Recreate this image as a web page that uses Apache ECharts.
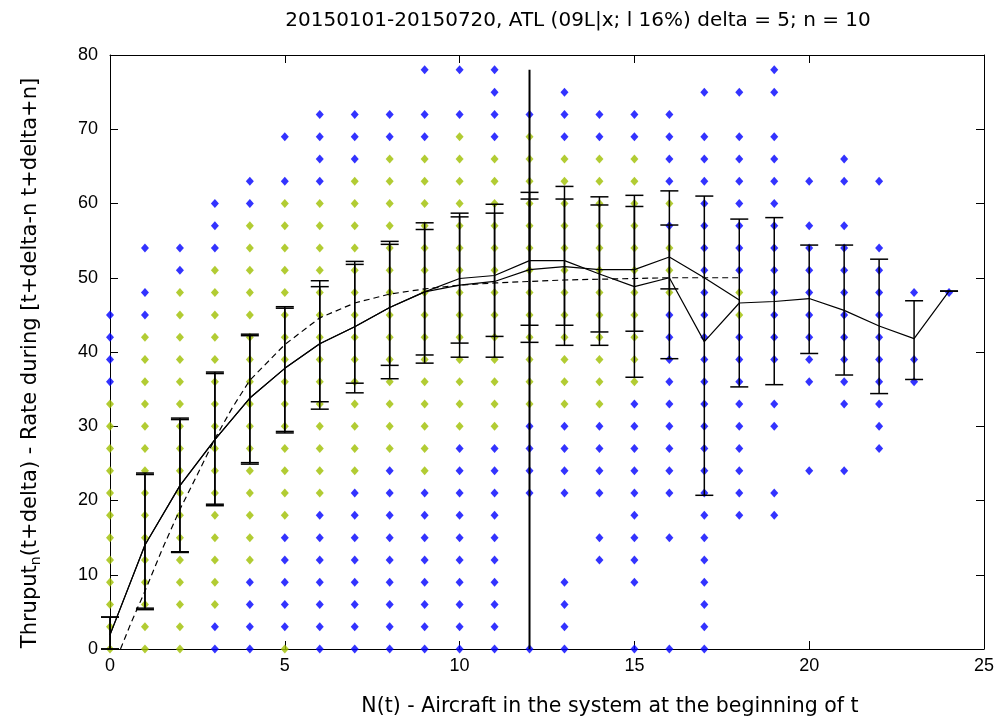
<!DOCTYPE html>
<html><head><meta charset="utf-8">
<script src="https://cdn.jsdelivr.net/npm/echarts@6/dist/echarts.min.js"></script>
<style>html,body{margin:0;padding:0;background:#fff}#c{width:1005px;height:720px}</style>
</head><body><div id="c"></div>
<script>
const titleText = '20150101-20150720, ATL (09L|x; l 16%) delta = 5; n = 10';
const xAxisName = 'N(t) - Aircraft in the system at the beginning of t';
const yAxisName = '{a|Thruput}{s|n}{a|(t+delta) - Rate during [t+delta-n t+delta+n]}';
const xTicks = [0, 5, 10, 15, 20, 25];
const yTicks = [0, 10, 20, 30, 40, 50, 60, 70, 80];
const nValues = [0,1,2,3,4,5,6,7,8,9,10,11,12,13,14,15,16,17,18,19,20,21,22,23,24];

// observed throughputs per N(t), green (core) and blue (outer)
const greenY = [
  [0,3,6,9,12,15,18,21,24,27,30,33],
  [0,3,6,9,12,15,18,21,24,27,30,33,36,39,42],
  [0,3,6,9,12,15,18,21,24,27,30,33,36,39,42,45,48],
  [6,9,12,15,18,21,24,27,30,33,36,39,42,45,48,51],
  [12,15,18,21,24,27,30,33,36,39,42,45,48,51,54,57],
  [0,18,21,24,27,30,33,36,39,42,45,48,51,54,57,60],
  [21,24,27,30,33,36,39,42,45,48,51,54,57,60],
  [24,27,30,33,36,39,42,45,48,51,54,57,60,63],
  [27,30,33,36,39,42,45,48,51,54,57,60,63,66],
  [24,27,30,33,36,39,42,45,48,51,54,57,60,63,66],
  [30,33,36,39,42,45,48,51,54,57,60,63,66,69],
  [30,33,36,39,42,45,48,51,54,57,60,63,66],
  [33,36,39,42,45,48,51,54,57,60,63,66,69],
  [33,36,39,42,45,48,51,54,57,60,63,66],
  [33,36,39,42,45,48,51,54,57,60,63,66],
  [36,39,42,45,48,51,54,57,60,63,66],
  [48,51,54,60],
  [],
  [45,48],
  [], [], [], [], [], []
];
const blueY = [
  [36,39,42,45],
  [45,48,54],
  [51,54],
  [0,3,54,57,60],
  [0,3,6,9,60,63],
  [3,6,9,12,15,63,69],
  [0,3,6,9,12,15,18,63,66,69,72],
  [0,3,6,9,12,15,18,21,66,69,72],
  [0,3,6,9,12,15,18,21,24,69,72],
  [0,3,6,9,12,15,18,21,69,72,78],
  [0,3,6,9,12,15,18,21,24,27,72,78],
  [0,3,6,9,12,15,18,21,24,27,69,72,75,78],
  [0,21,24,27,30,72],
  [0,3,6,9,21,24,27,30,69,72,75],
  [12,15,21,24,27,30,69,72],
  [0,9,12,15,18,21,24,27,30,33,69,72],
  [0,15,21,24,27,30,33,36,39,42,45,57,63,66,69,72],
  [0,3,6,9,12,15,18,21,24,27,30,33,36,39,42,45,48,51,54,57,60,63,66,69,75],
  [18,21,24,27,30,33,36,39,42,51,54,57,60,63,66,69,75],
  [18,21,30,33,39,42,45,48,51,54,57,60,63,66,69,75,78],
  [24,36,39,42,45,48,51,54,57,63],
  [24,33,36,39,42,45,48,51,54,57,63,66],
  [27,30,33,36,39,42,45,48,51,54,63],
  [36,39,48],
  [48]
];

// dashed fitted curve
const fitX = [0.3, 0.6, 1, 1.5, 2, 2.5, 3, 3.5, 4, 5, 6, 7, 8, 9, 10, 11, 12, 13, 14, 15, 16, 17, 18];
const fitY = [0, 3.5, 7.8, 13.5, 18.8, 23.5, 28.3, 32.5, 36.2, 41, 44.6, 46.6, 47.8, 48.5, 49, 49.3, 49.5, 49.7, 49.8, 49.9, 50, 50, 50];

// mean curve A (runs to N = 24) with its error bars
const meanAX  = [0, 1, 2, 3, 4, 5, 6, 7, 8, 9, 10, 11, 12, 13, 14, 15, 16, 17, 18, 19, 20, 21, 22, 23, 24];
const meanAY  = [1.9, 14.0, 22.0, 28.2, 33.8, 37.8, 41.1, 43.4, 46.0, 48.1, 49.9, 50.3, 52.3, 52.3, 50.5, 48.8, 50.0, 41.4, 46.6, 46.8, 47.2, 45.6, 43.5, 41.8, 48.2];
const meanALo = [0, 5.5, 13.1, 19.5, 25.1, 29.3, 32.3, 34.5, 36.4, 38.5, 41.2, 42.1, 43.6, 43.6, 40.9, 36.6, 39.1, 20.7, 35.3, 35.6, 39.8, 36.9, 34.4, 36.3, 48.2];
const meanAHi = [4.3, 23.7, 31.1, 37.3, 42.4, 46.1, 49.6, 52.2, 54.9, 57.4, 58.7, 58.7, 61.5, 60.6, 60.9, 61.1, 61.7, 61.0, 57.9, 58.1, 54.4, 54.4, 52.5, 46.9, 48.2];

// mean curve B (runs to N = 18) with its error bars (to N = 16)
const meanBX  = [0, 1, 2, 3, 4, 5, 6, 7, 8, 9, 10, 11, 12, 13, 14, 15, 16, 17, 18];
const meanBY  = [1.9, 14.0, 22.0, 28.2, 33.8, 37.8, 41.1, 43.4, 46.0, 48.1, 49.0, 49.5, 51.1, 51.5, 51.1, 51.1, 52.8, 50.0, 47.0];
const errBX   = [0, 1, 2, 3, 4, 5, 6, 7, 8, 9, 10, 11, 12, 13, 14, 15, 16];
const meanBLo = [0, 5.3, 13.0, 19.3, 24.9, 29.1, 33.3, 35.8, 38.2, 39.6, 39.3, 39.3, 41.3, 40.9, 42.7, 42.8, 48.5];
const meanBHi = [4.3, 23.5, 30.9, 37.1, 42.2, 45.9, 48.8, 51.8, 54.5, 56.5, 58.2, 59.9, 60.6, 62.3, 59.8, 59.6, 57.1];

// vertical reference line
const refX = [12, 12];
const refY = [0, 78];

const GREEN = '#9fbf00', BLUE = '#0000ff';
const FONT = '"DejaVu Sans", Verdana, sans-serif';
const TICKFONT = '"Liberation Sans", Arial, sans-serif';

function pts(cols) {
  const out = [];
  cols.forEach((ys, i) => ys.forEach(y => out.push([nValues[i], y])));
  return out;
}
function zip(a, b) { return a.map((v, i) => [v, b[i]]); }
function zip3(a, b, c) { return a.map((v, i) => [v, b[i], c[i]]); }

function errRender(params, api) {
  const x = api.value(0), lo = api.value(1), hi = api.value(2);
  const pLo = api.coord([x, lo]), pHi = api.coord([x, hi]);
  const w = 9;
  const st = { stroke: '#000', lineWidth: 1.5 };
  return { type: 'group', children: [
    { type: 'line', shape: { x1: pLo[0], y1: pLo[1], x2: pHi[0], y2: pHi[1] }, style: st },
    { type: 'line', shape: { x1: pLo[0] - w, y1: pLo[1], x2: pLo[0] + w, y2: pLo[1] }, style: st },
    { type: 'line', shape: { x1: pHi[0] - w, y1: pHi[1], x2: pHi[0] + w, y2: pHi[1] }, style: st }
  ]};
}

const chart = echarts.init(document.getElementById('c'), null, { renderer: 'canvas' });
const axisCommon = {
  axisLine: { show: true, onZero: false, lineStyle: { color: '#000', width: 1 } },
  axisTick: { show: true, inside: true, length: 8, lineStyle: { color: '#000' } },
  splitLine: { show: false }
};
chart.setOption({
  animation: false,
  backgroundColor: '#fff',
  graphic: [
    { type: 'text', x: 578, y: 21, style: { text: titleText, fill: '#000', font: '20px ' + FONT,
        align: 'center', verticalAlign: 'middle' } },
    { type: 'text', x: 610, y: 707, style: { text: xAxisName, fill: '#000', font: '20.5px ' + FONT,
        align: 'center', verticalAlign: 'middle' } },
    { type: 'text', x: 31, y: 363, rotation: Math.PI / 2, style: { text: yAxisName, fill: '#000',
        font: '21px ' + FONT, align: 'center', verticalAlign: 'middle',
        rich: { a: { fontFamily: FONT, fontSize: 21, fill: '#000', lineHeight: 25 },
                s: { fontFamily: FONT, fontSize: 14, fill: '#000', verticalAlign: 'bottom', lineHeight: 12 } } } }
  ],
  grid: { left: 110, right: 21, top: 55, bottom: 71 },
  xAxis: [
    Object.assign({ type: 'value', min: xTicks[0], max: xTicks[xTicks.length - 1], interval: 5, position: 'bottom',
      axisLabel: { fontFamily: TICKFONT, fontSize: 18, color: '#000', margin: 8 } }, axisCommon),
    Object.assign({ type: 'value', min: xTicks[0], max: xTicks[xTicks.length - 1], interval: 5, position: 'top',
      axisLabel: { show: false } }, axisCommon)
  ],
  yAxis: [
    Object.assign({ type: 'value', min: yTicks[0], max: yTicks[yTicks.length - 1], interval: 10, position: 'left',
      axisLabel: { fontFamily: TICKFONT, fontSize: 18, color: '#000', margin: 12 } }, axisCommon),
    Object.assign({ type: 'value', min: yTicks[0], max: yTicks[yTicks.length - 1], interval: 10, position: 'right',
      axisLabel: { show: false } }, axisCommon)
  ],
  series: [
    { type: 'scatter', data: pts(blueY), symbol: 'diamond', symbolSize: [8, 9], itemStyle: { color: BLUE }, z: 2 },
    { type: 'scatter', data: pts(greenY), symbol: 'diamond', symbolSize: [8, 9], itemStyle: { color: GREEN }, z: 2 },
    { type: 'custom', renderItem: errRender, data: zip3(meanAX, meanALo, meanAHi), encode: { x: 0, y: [1, 2] }, z: 3 },
    { type: 'custom', renderItem: errRender, data: zip3(errBX, meanBLo, meanBHi), encode: { x: 0, y: [1, 2] }, z: 3 },
    { type: 'line', data: zip(fitX, fitY), showSymbol: false, smooth: false,
      lineStyle: { color: '#000', width: 1.2, type: [6, 4] }, z: 4 },
    { type: 'line', data: zip(meanAX, meanAY), showSymbol: false, lineStyle: { color: '#000', width: 1.2 }, z: 4 },
    { type: 'line', data: zip(meanBX, meanBY), showSymbol: false, lineStyle: { color: '#000', width: 1.2 }, z: 4 },
    { type: 'line', data: zip(refX, refY), showSymbol: false, lineStyle: { color: '#000', width: 2 }, z: 4 }
  ]
});
</script></body></html>
